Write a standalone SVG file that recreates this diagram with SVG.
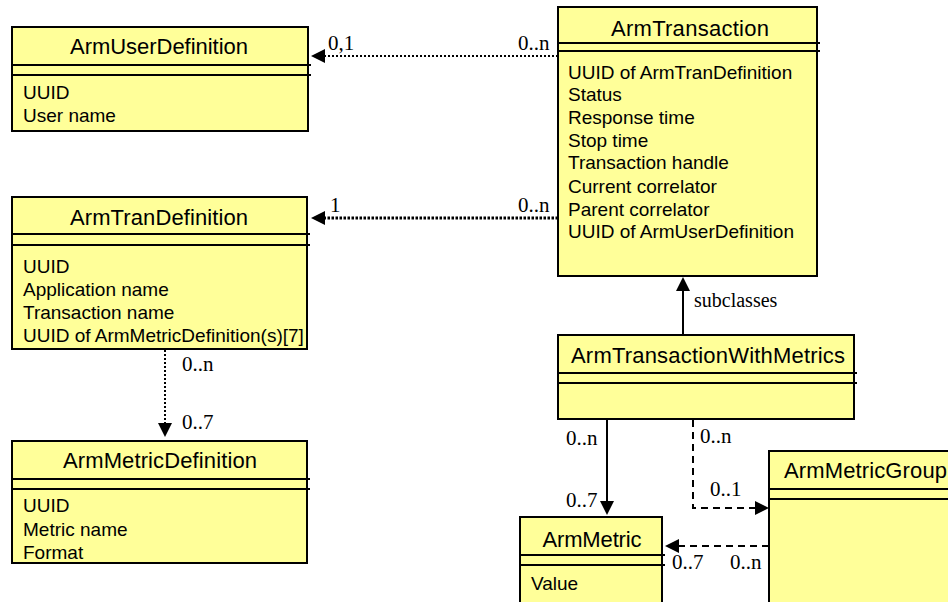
<svg xmlns="http://www.w3.org/2000/svg" width="948" height="602" viewBox="0 0 948 602">
  <style>
    .box { fill: #FFFF99; stroke: #000; stroke-width: 2; }
    .sep { stroke: #000; stroke-width: 2; }
    .title { font-family: "Liberation Sans", Arial, sans-serif; font-size: 22px; fill: #000; }
    .attr { font-family: "Liberation Sans", Arial, sans-serif; font-size: 19px; fill: #000; }
    .lbl { font-family: "Liberation Serif", "Times New Roman", serif; font-size: 21px; fill: #000; }
    .conn { fill: none; stroke: #000; stroke-width: 2; }
    .dot { stroke-dasharray: 2 2; }
    .dotheavy { stroke-width: 3; stroke-dasharray: 2.5 1.5; }
    .dash { stroke-dasharray: 7 5; }
  </style>
  <defs>
    <marker id="arrow" viewBox="0 0 14 14" refX="4" refY="7" markerWidth="14" markerHeight="14" markerUnits="userSpaceOnUse" orient="auto">
      <path d="M0,0 L14,7 L0,14 z" fill="#000"/>
    </marker>
  </defs>
  <rect width="948" height="602" fill="#fff"/>

  <g id="ArmUserDefinition">
    <rect class="box" x="12" y="27" width="296" height="104"/>
    <line class="sep" x1="12" y1="65" x2="311" y2="65"/>
    <line class="sep" x1="12" y1="75" x2="311" y2="75"/>
    <text class="title" x="159" y="54" text-anchor="middle" textLength="178" lengthAdjust="spacing">ArmUserDefinition</text>
    <text class="attr" x="23" y="99">UUID</text>
    <text class="attr" x="23" y="122">User name</text>
  </g>

  <g id="ArmTranDefinition">
    <rect class="box" x="12" y="197" width="295" height="152"/>
    <line class="sep" x1="12" y1="234" x2="310" y2="234"/>
    <line class="sep" x1="12" y1="245" x2="310" y2="245"/>
    <text class="title" x="159" y="225" text-anchor="middle" textLength="178" lengthAdjust="spacing">ArmTranDefinition</text>
    <text class="attr" x="23" y="273">UUID</text>
    <text class="attr" x="23" y="296">Application name</text>
    <text class="attr" x="23" y="319">Transaction name</text>
    <text class="attr" x="23" y="342">UUID of ArmMetricDefinition(s)[7]</text>
  </g>

  <g id="ArmMetricDefinition">
    <rect class="box" x="12" y="441" width="295" height="122"/>
    <line class="sep" x1="12" y1="479" x2="310" y2="479"/>
    <line class="sep" x1="12" y1="489" x2="310" y2="489"/>
    <text class="title" x="160" y="468" text-anchor="middle" textLength="194" lengthAdjust="spacing">ArmMetricDefinition</text>
    <text class="attr" x="23" y="512">UUID</text>
    <text class="attr" x="23" y="536">Metric name</text>
    <text class="attr" x="23" y="559">Format</text>
  </g>

  <g id="ArmTransaction">
    <rect class="box" x="558" y="7" width="259" height="269"/>
    <line class="sep" x1="558" y1="43" x2="820" y2="43"/>
    <line class="sep" x1="558" y1="51" x2="820" y2="51"/>
    <text class="title" x="690" y="36" text-anchor="middle" textLength="158" lengthAdjust="spacing">ArmTransaction</text>
    <text class="attr" x="568" y="79">UUID of ArmTranDefinition</text>
    <text class="attr" x="568" y="101">Status</text>
    <text class="attr" x="568" y="124">Response time</text>
    <text class="attr" x="568" y="147">Stop time</text>
    <text class="attr" x="568" y="169">Transaction handle</text>
    <text class="attr" x="568" y="193">Current correlator</text>
    <text class="attr" x="568" y="216">Parent correlator</text>
    <text class="attr" x="568" y="238">UUID of ArmUserDefinition</text>
  </g>

  <g id="ArmTransactionWithMetrics">
    <rect class="box" x="558" y="335" width="296" height="84"/>
    <line class="sep" x1="558" y1="373" x2="857" y2="373"/>
    <line class="sep" x1="558" y1="383" x2="857" y2="383"/>
    <text class="title" x="708" y="363" text-anchor="middle" textLength="274" lengthAdjust="spacing">ArmTransactionWithMetrics</text>
  </g>

  <g id="ArmMetricGroup">
    <rect class="box" x="769" y="451" width="200" height="170"/>
    <line class="sep" x1="769" y1="489" x2="969" y2="489"/>
    <line class="sep" x1="769" y1="499" x2="969" y2="499"/>
    <text class="title" x="784" y="478" textLength="163" lengthAdjust="spacing">ArmMetricGroup</text>
  </g>

  <g id="ArmMetric">
    <rect class="box" x="520" y="517" width="142" height="100"/>
    <line class="sep" x1="520" y1="555" x2="665" y2="555"/>
    <line class="sep" x1="520" y1="565" x2="665" y2="565"/>
    <text class="title" x="592" y="547" text-anchor="middle" textLength="99" lengthAdjust="spacing">ArmMetric</text>
    <text class="attr" x="531" y="590">Value</text>
  </g>

  <g id="connectors">
    <path class="conn dot" d="M558,56 L321,56" marker-end="url(#arrow)"/>
    <path class="conn dotheavy" d="M558,218 L321,218" marker-end="url(#arrow)"/>
    <path class="conn dot" d="M165,350 L165,427" marker-end="url(#arrow)"/>
    <path class="conn" d="M683,335 L683,287" marker-end="url(#arrow)"/>
    <path class="conn" d="M607,419 L607,505" marker-end="url(#arrow)"/>
    <path class="conn dash" d="M693,420 L693,508 L759,508" marker-end="url(#arrow)"/>
    <path class="conn dash" d="M769,546 L675,546" marker-end="url(#arrow)"/>

    <text class="lbl" x="328" y="50">0,1</text>
    <text class="lbl" x="518" y="50">0..n</text>
    <text class="lbl" x="330" y="212">1</text>
    <text class="lbl" x="518" y="212">0..n</text>
    <text class="lbl" x="182" y="371">0..n</text>
    <text class="lbl" x="182" y="429">0..7</text>
    <text class="lbl" x="694" y="307" style="font-size:20px">subclasses</text>
    <text class="lbl" x="566" y="445">0..n</text>
    <text class="lbl" x="566" y="507">0..7</text>
    <text class="lbl" x="700" y="443">0..n</text>
    <text class="lbl" x="710" y="496">0..1</text>
    <text class="lbl" x="672" y="569">0..7</text>
    <text class="lbl" x="730" y="569">0..n</text>
  </g>
</svg>
